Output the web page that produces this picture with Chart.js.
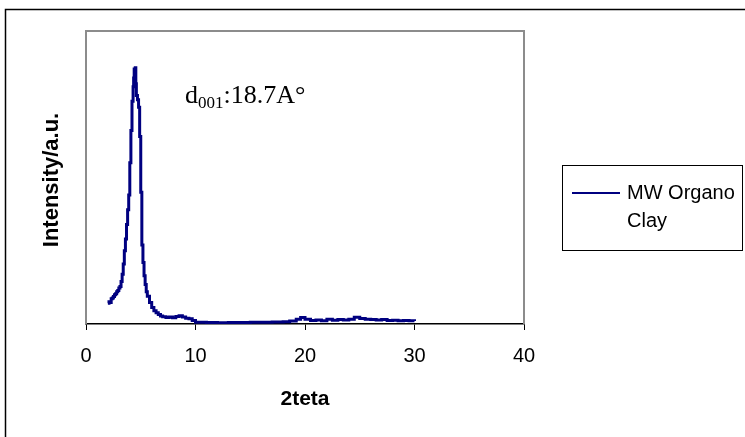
<!DOCTYPE html>
<html>
<head>
<meta charset="utf-8">
<script src="https://cdn.jsdelivr.net/npm/chart.js@4.4.0/dist/chart.umd.min.js"></script>
<style>
  body { margin: 0; background: #fff; }
  canvas { display: block; }
</style>
</head>
<body>
<canvas id="xrdChart" width="745" height="437"></canvas>
<script>
// 2theta positions (deg) and intensity (a.u., scaled 0-100)
const twoTheta = [2.0, 2.1, 2.2, 2.3, 2.4, 2.5, 2.6, 2.7, 2.8, 2.9, 3.0, 3.1, 3.2, 3.3, 3.4, 3.5,
  3.6, 3.7, 3.8, 3.9, 4.0, 4.1, 4.2, 4.3, 4.35, 4.4, 4.45, 4.5, 4.55, 4.6, 4.7, 4.8, 4.9, 5.0,
  5.1, 5.2, 5.3, 5.4, 5.5, 5.6, 5.8, 6.0, 6.2, 6.4, 6.6, 6.8, 7.0, 7.3, 7.6, 7.9, 8.2, 8.5,
  8.8, 9.1, 9.4, 9.7, 10.0, 11, 12, 13, 14, 15, 16, 17, 18, 18.6, 19.2, 19.6, 20.0, 20.5,
  21.0, 21.5, 22.0, 22.5, 23.0, 23.5, 24.0, 24.5, 25.0, 25.5, 26, 26.5, 27, 27.5, 28, 28.5,
  29, 29.5, 30.0];
const intensity = [7.1, 7.6, 7.3, 8.6, 8.9, 9.4, 10.0, 10.3, 11.0, 11.4, 12.3, 12.8, 14.5, 17.0,
  20.5, 25.0, 29.0, 34.0, 39.0, 44.0, 55.0, 66.0, 76.0, 81.0, 84.0, 87.0, 85.0, 87.5, 82.0,
  78.0, 76.5, 74.0, 64.0, 45.0, 27.0, 21.0, 16.5, 13.5, 11.0, 9.5, 7.3, 5.6, 4.5, 3.8, 3.2,
  2.7, 2.5, 2.2, 2.4, 2.1, 2.6, 2.8, 2.4, 2.0, 1.8, 1.2, 0.6, 0.5, 0.4, 0.5, 0.5, 0.6, 0.6,
  0.7, 0.8, 1.0, 1.6, 2.2, 1.6, 1.2, 1.4, 1.1, 1.6, 1.3, 1.5, 1.4, 1.6, 2.3, 1.9, 1.6, 1.5,
  1.4, 1.5, 1.2, 1.3, 1.1, 1.2, 1.1, 1.0];
const xTicks = [0, 10, 20, 30, 40];
const seriesName = ['MW Organo', 'Clay'];

const navy = '#000080';
const sans = '"Liberation Sans", Arial, sans-serif';
const serif = '"Liberation Serif", "Times New Roman", serif';

// frame, plot border, titles, annotation and legend box
const decorations = {
  id: 'decorations',
  afterDraw(chart) {
    const c = chart.ctx;
    const a = chart.chartArea;
    c.save();

    // outer frame (right and bottom run off the picture)
    c.strokeStyle = '#000';
    c.lineWidth = 1.5;
    c.strokeRect(5.5, 9.5, 800, 500);

    // grey plot border (bottom is the black axis)
    c.strokeStyle = '#8c8c8c';
    c.lineWidth = 2;
    c.beginPath();
    c.moveTo(a.left, a.bottom);
    c.lineTo(a.left, a.top);
    c.lineTo(a.right, a.top);
    c.lineTo(a.right, a.bottom);
    c.stroke();

    c.fillStyle = '#000';
    c.textAlign = 'center';
    c.textBaseline = 'middle';

    // x title
    c.font = 'bold 21px ' + sans;
    c.fillText('2teta', (a.left + a.right) / 2, 399);

    // y title
    c.font = 'bold 22px ' + sans;
    c.save();
    c.translate(52, 180);
    c.rotate(-Math.PI / 2);
    c.fillText('Intensity/a.u.', 0, 0);
    c.restore();

    // d-spacing note
    c.textAlign = 'left';
    c.textBaseline = 'alphabetic';
    let x = 185;
    c.font = '26px ' + serif;
    c.fillText('d', x, 103);
    x += c.measureText('d').width;
    c.font = '17px ' + serif;
    c.fillText('001', x, 108);
    x += c.measureText('001').width;
    c.font = '26px ' + serif;
    c.fillText(':18.7A°', x, 103);

    // legend
    c.strokeStyle = '#000';
    c.lineWidth = 1;
    c.strokeRect(562.5, 165.5, 180, 85);
    c.strokeStyle = navy;
    c.lineWidth = 2;
    c.beginPath();
    c.moveTo(572, 193);
    c.lineTo(620, 193);
    c.stroke();
    c.font = '20px ' + sans;
    c.textBaseline = 'middle';
    c.fillText(seriesName[0], 627, 193);
    c.fillText(seriesName[1], 627, 221);

    c.restore();
  }
};

new Chart(document.getElementById('xrdChart'), {
  type: 'line',
  data: {
    datasets: [{
      label: seriesName.join(' '),
      data: twoTheta.map((t, i) => ({ x: t, y: intensity[i] })),
      borderColor: navy,
      borderWidth: 3,
      pointRadius: 0,
      fill: false,
      stepped: true
    }]
  },
  options: {
    responsive: false,
    animation: false,
    layout: { padding: { left: 86, right: 221, top: 31, bottom: 0 } },
    plugins: {
      legend: { display: false },
      tooltip: { enabled: false }
    },
    scales: {
      x: {
        type: 'linear',
        min: 0,
        max: 40,
        afterFit: s => { s.height = 113; },
        afterBuildTicks: s => { s.ticks = xTicks.map(v => ({ value: v })); },
        ticks: {
          color: '#000',
          padding: 14,
          maxRotation: 0,
          font: { family: sans, size: 20 }
        },
        grid: {
          display: true,
          drawOnChartArea: false,
          drawTicks: true,
          tickLength: 6,
          color: '#000',
          lineWidth: 1
        },
        border: { display: true, color: '#000', width: 1.5 }
      },
      y: {
        display: false,
        min: 0,
        max: 100
      }
    }
  },
  plugins: [decorations]
});
</script>
</body>
</html>
